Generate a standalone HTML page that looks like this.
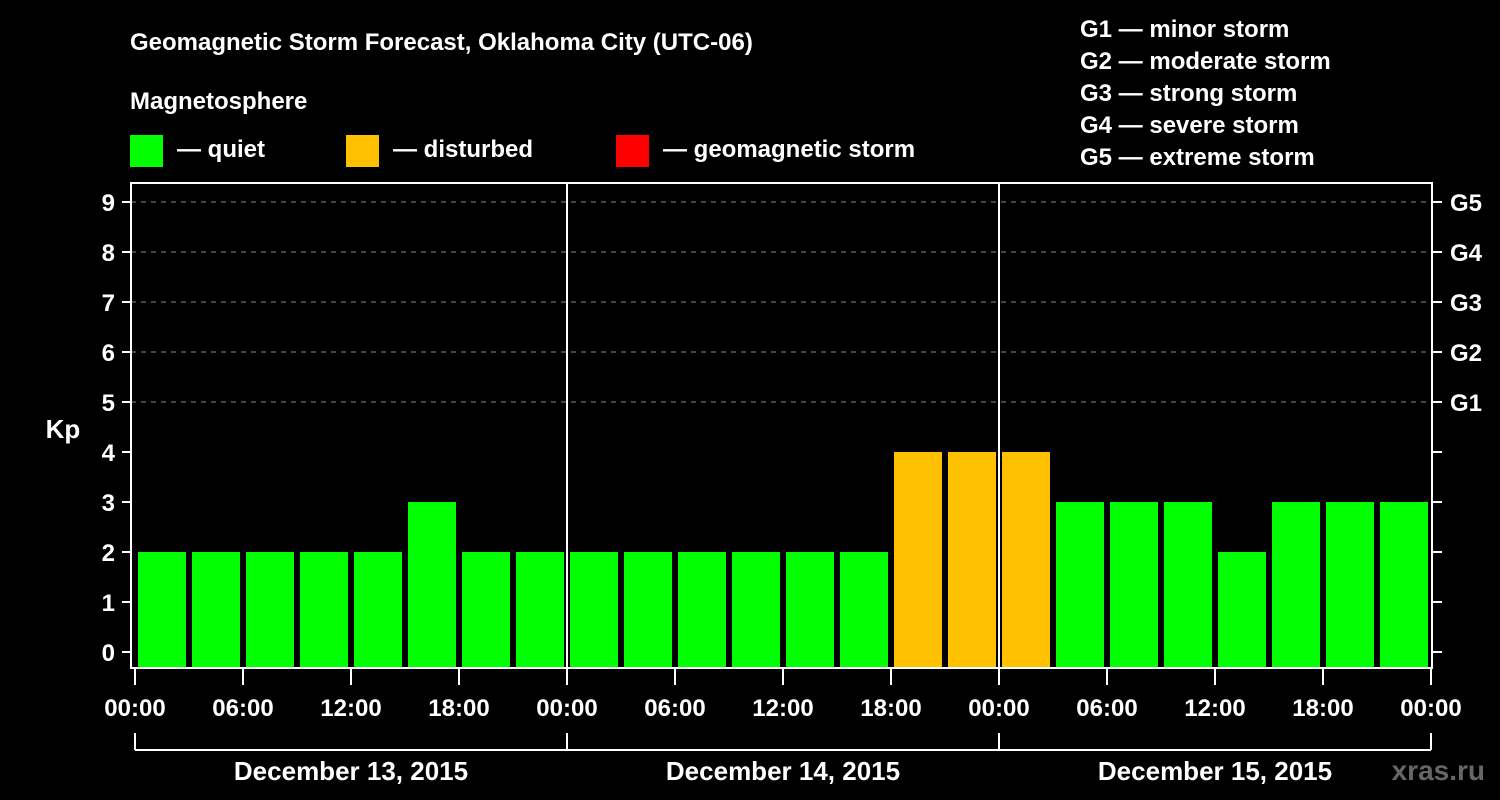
<!DOCTYPE html>
<html><head><meta charset="utf-8"><style>
html,body{margin:0;padding:0;background:#000;}
svg{display:block;font-family:"Liberation Sans",Arial,sans-serif;font-weight:bold;}
</style></head><body>
<svg id="chart" width="1500" height="800" viewBox="0 0 1500 800" xmlns="http://www.w3.org/2000/svg">
<rect width="1500" height="800" fill="#000"/>
<text x="130" y="50" fill="#fff" font-size="24">Geomagnetic Storm Forecast, Oklahoma City (UTC-06)</text>
<text x="130" y="109" fill="#fff" font-size="24">Magnetosphere</text>
<g><rect x="130" y="135" width="33" height="32" fill="#00ff00"/><text x="177" y="157" fill="#fff" font-size="24">— quiet</text></g>
<g><rect x="346" y="135" width="33" height="32" fill="#ffc000"/><text x="393" y="157" fill="#fff" font-size="24">— disturbed</text></g>
<g><rect x="616" y="135" width="33" height="32" fill="#ff0000"/><text x="663" y="157" fill="#fff" font-size="24">— geomagnetic storm</text></g>
<g fill="#fff" font-size="24">
<text x="1080" y="37">G1 — minor storm</text>
<text x="1080" y="69">G2 — moderate storm</text>
<text x="1080" y="101">G3 — strong storm</text>
<text x="1080" y="133">G4 — severe storm</text>
<text x="1080" y="165">G5 — extreme storm</text>
</g>
<text x="63" y="438" fill="#fff" font-size="26" text-anchor="middle">Kp</text>
<g id="grid"></g>
<g id="bars"></g>
<g id="axes"></g>
<text x="1485" y="780" fill="#666" font-size="28" text-anchor="end">xras.ru</text>
</svg>
<script>
const kpValues = [2,2,2,2,2,3,2,2, 2,2,2,2,2,2,4,4, 4,3,3,3,2,3,3,3];
const yTicks = [0,1,2,3,4,5,6,7,8,9];
const gLabels = ["G1","G2","G3","G4","G5"];
const timeLabels = ["00:00","06:00","12:00","18:00","00:00","06:00","12:00","18:00","00:00","06:00","12:00","18:00","00:00"];
const dayLabels = ["December 13, 2015","December 14, 2015","December 15, 2015"];

const NS="http://www.w3.org/2000/svg";
const X0=135, X1=1431, FL=131, FR=1432, FT=183, FB=668;
const xs = i => X0 + (X1-X0)*i/kpValues.length;
const ys = v => 652 - 50*v;
function mk(tag, attrs, parent, txt){const e=document.createElementNS(NS,tag);for(const k in attrs)e.setAttribute(k,attrs[k]);if(txt!==undefined)e.textContent=txt;parent.appendChild(e);return e;}
const grid=document.getElementById('grid'), bars=document.getElementById('bars'), axes=document.getElementById('axes');

yTicks.forEach(v=>{
  if(v>=5){const l=mk('line',{x1:FL,x2:FR,y1:ys(v),y2:ys(v),stroke:'#888','stroke-dasharray':'5,5','stroke-width':1},grid);
    
    }
  const t=mk('line',{x1:122,x2:FL,y1:ys(v),y2:ys(v),stroke:'#fff','stroke-width':2},axes);
  
  
  const rt=mk('line',{x1:FR,x2:1442,y1:ys(v),y2:ys(v),stroke:'#fff','stroke-width':2},axes);
  
  
  const lb=mk('text',{x:115,y:ys(v)+9,fill:'#fff','font-size':24,'text-anchor':'end'},axes,String(v));
  
  
});
gLabels.forEach((g,i)=>{
  const t=mk('text',{x:1450,y:ys(5+i)+9,fill:'#fff','font-size':24},axes,g);
  
  
});
kpValues.forEach((v,i)=>{
  const x=xs(i)+3, w=xs(i+1)-xs(i)-6, y=ys(v);
  const r=mk('rect',{x:x,y:y,width:w,height:FB-y,fill:v>=5?'#ff0000':(v>=4?'#ffc000':'#00ff00')},bars);
  
  
});
// frame
const fr=mk('rect',{x:FL,y:FT,width:FR-FL,height:FB-FT,fill:'none',stroke:'#fff','stroke-width':2},axes);


[1,2].forEach(d=>{const x=xs(d*8);
  const l=mk('line',{x1:x,x2:x,y1:FT,y2:FB,stroke:'#fff','stroke-width':2},axes);
  
  });
timeLabels.forEach((t,i)=>{
  const x=xs(i*2);
  const tk=mk('line',{x1:x,x2:x,y1:FB,y2:685,stroke:'#fff','stroke-width':2},axes);
  
  
  const lb=mk('text',{x:x,y:716,fill:'#fff','font-size':24,'text-anchor':'middle'},axes,t);
  
  
});
const br=mk('line',{x1:xs(0),x2:xs(24),y1:750,y2:750,stroke:'#fff','stroke-width':2},axes);


[0,1,2,3].forEach(d=>{const x=xs(d*8);
  const l=mk('line',{x1:x,x2:x,y1:733,y2:750,stroke:'#fff','stroke-width':2},axes);
  
  });
dayLabels.forEach((d,i)=>{
  const t=mk('text',{x:(xs(i*8)+xs(i*8+8))/2,y:780,fill:'#fff','font-size':26,'text-anchor':'middle'},axes,d);
  
  
});
</script>
</body></html>
